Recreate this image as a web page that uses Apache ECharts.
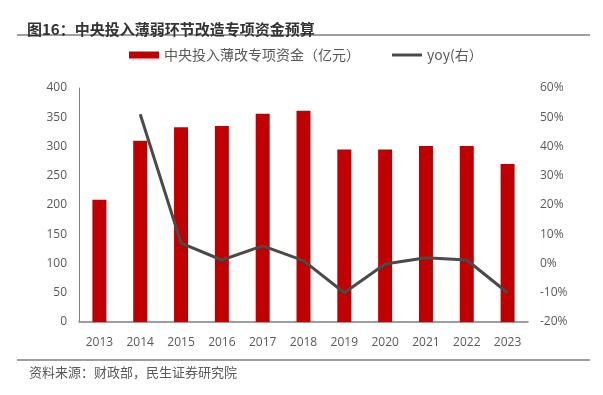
<!DOCTYPE html>
<html><head><meta charset="utf-8">
<script src="https://cdn.jsdelivr.net/npm/echarts@6/dist/echarts.min.js"></script>
<style>html,body{margin:0;padding:0;background:#fff}#c{width:603px;height:395px}</style>
</head><body><div id="c"></div>
<script>
var years = ['2013','2014','2015','2016','2017','2018','2019','2020','2021','2022','2023'];
var funds = [209, 310, 333, 335, 356, 361, 295, 295, 301, 301, 270];
var yoy = [null, 51, 7, 1.2, 6, 1, -10, -0.2, 2, 1.2, -10];
var leftTicks = [0, 400, 50];
var rightTicks = [-20, 60, 10];

var chart = echarts.init(document.getElementById('c'), null, {renderer: 'canvas'});
var font = '"Open Sans", "Noto Sans CJK SC", sans-serif';
chart.setOption({
  animation: false,
  backgroundColor: '#fff',
  title: {
    text: '图16：中央投入薄弱环节改造专项资金预算',
    left: 22, top: 17,
    textStyle: {fontSize: 15, fontWeight: 'bold', color: '#333333', fontFamily: '"Noto Sans CJK SC", sans-serif'}
  },
  legend: {
    top: 48, left: 129, padding: 0,
    itemGap: 32,
    itemWidth: 30, itemHeight: 7,
    symbolKeepAspect: true,
    textStyle: {fontSize: 14, color: '#595959', fontFamily: '"Noto Sans CJK SC", sans-serif'},
    data: [
      {name: '中央投入薄改专项资金（亿元）', icon: 'rect'},
      {name: 'yoy(右）', icon: 'path://M0,0h30v3h-30z'}
    ]
  },
  grid: {left: 79, right: 75, top: 88, bottom: 73},
  xAxis: {
    type: 'category', data: years,
    axisLine: {lineStyle: {color: '#7f7f7f', width: 1.5}},
    axisTick: {show: false},
    axisLabel: {fontSize: 12, color: '#595959', margin: 15, fontFamily: font}
  },
  yAxis: [{
    type: 'value', min: leftTicks[0], max: leftTicks[1], interval: leftTicks[2],
    axisLine: {show: true, lineStyle: {color: '#7f7f7f', width: 1}},
    axisTick: {show: false},
    splitLine: {show: false},
    axisLabel: {fontSize: 12, color: '#595959', margin: 12, fontFamily: font}
  }, {
    type: 'value', min: rightTicks[0], max: rightTicks[1], interval: rightTicks[2],
    axisLine: {show: false}, axisTick: {show: false}, splitLine: {show: false},
    axisLabel: {fontSize: 12, color: '#595959', margin: 12, formatter: '{value}%', fontFamily: font}
  }],
  series: [{
    name: '中央投入薄改专项资金（亿元）', type: 'bar', data: funds,
    barWidth: 14, itemStyle: {color: '#c00000'}
  }, {
    name: 'yoy(右）', type: 'line', yAxisIndex: 1, data: yoy,
    symbol: 'none', connectNulls: false,
    lineStyle: {color: '#4a4a4a', width: 3},
    itemStyle: {color: '#4a4a4a'}
  }],
  graphic: [
    {type: 'line', shape: {x1: 17, y1: 35, x2: 590, y2: 35}, style: {stroke: '#7f7f7f', lineWidth: 1.5}},
    {type: 'line', shape: {x1: 17, y1: 360, x2: 590, y2: 360}, style: {stroke: '#7f7f7f', lineWidth: 1.5}},
    {type: 'text', left: 29, top: 366, style: {text: '资料来源：财政部，民生证券研究院', fontSize: 13, fill: '#595959', fontFamily: '"Noto Sans CJK SC", sans-serif'}}
  ]
});
</script></body></html>
